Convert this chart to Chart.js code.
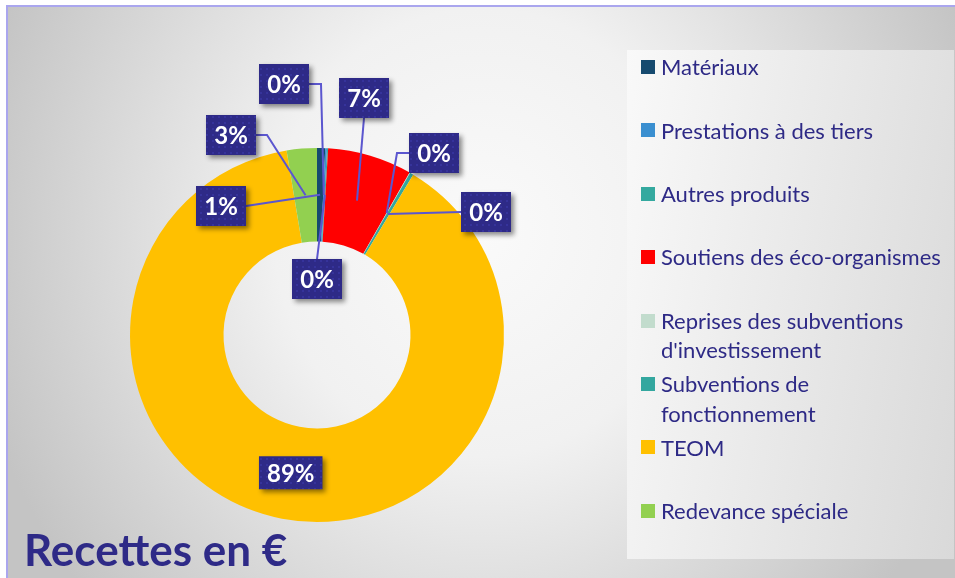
<!DOCTYPE html>
<html>
<head>
<meta charset="utf-8">
<script src="https://cdn.jsdelivr.net/npm/chart.js@4.4.0/dist/chart.umd.min.js"></script>
<style>
html, body { margin: 0; padding: 0; width: 955px; height: 578px; overflow: hidden; background: #fff; }
#frame { position: absolute; left: 6px; top: 5px; width: 960px; height: 590px;
  border-left: 2px solid #aaa6ee; border-top: 2px solid #aaa6ee;
  background: radial-gradient(ellipse 520px 560px at 474px 225px, #fafafa 0%, #f1f1f1 40%, #c4c4c4 100%); }
#panel { position: absolute; left: 627px; top: 50px; width: 327px; height: 509px;
  background: linear-gradient(100deg, #f9f9f9, #d9d9d9); }
#myChart { position: absolute; left: 0; top: 0; }
#legend { position: absolute; left: 641px; top: 0; width: 310px; font-family: Lato, sans-serif; font-size: 22px; color: #2e2a86; }
.item { position: absolute; left: 0; width: 310px; }
.sw { position: absolute; left: 0; width: 14px; height: 14px; }
.txt { position: absolute; left: 20px; width: 290px; line-height: 29.5px; }
#title { position: absolute; left: 24px; top: 527px; font-family: Lato, sans-serif; font-weight: bold;
  font-size: 44px; line-height: 44px; color: #2e2a87; white-space: nowrap; }
</style>
</head>
<body>
<div id="frame"></div>
<div id="panel"></div>
<canvas id="myChart" width="955" height="578"></canvas>
<div id="legend"></div>
<div id="title">Recettes en €</div>
<script>
// categories and their share of the revenue (%)
const categories = ['Matériaux', 'Prestations à des tiers', 'Autres produits', 'Soutiens des éco-organismes',
  'Reprises des subventions d\'investissement', 'Subventions de fonctionnement', 'TEOM', 'Redevance spéciale'];
const values = [0.7, 0.15, 0.1, 7.3, 0.05, 0.3, 88.8, 2.6];
const colors = ['#164a6f', '#3a8fd0', '#34a99f', '#ff0000', '#c2dccd', '#33a79f', '#ffc000', '#92d050'];

// where each label box sits, relative to the doughnut centre (null = on the slice)
const labelLayout = [
  { dx: -96, dy: -129, side: 'right', elbow: 0 },
  { dx: -33, dy: -251, side: 'right', elbow: 12 },
  { dx: 0, dy: -56, side: 'top', elbow: 0 },
  { dx: 47, dy: -237, side: 'bottom', elbow: 0 },
  { dx: 117, dy: -182, side: 'left', elbow: 12 },
  { dx: 169, dy: -123, side: 'left', elbow: 0 },
  { dx: null, dy: null, side: null, elbow: 0, h: 33 },
  { dx: -86, dy: -200, side: 'right', elbow: 11 }
];

// legend on the right
const legend = document.getElementById('legend');
categories.forEach((c, i) => {
  const y = 67 + i * 63.4;
  const it = document.createElement('div');
  it.className = 'item';
  it.style.top = (y - 14.75) + 'px';
  it.innerHTML = '<div class="sw" style="top:7.75px;background:' + colors[i] + '"></div><div class="txt">' + c + '</div>';
  legend.appendChild(it);
});

// dotted fill for the label boxes
function boxPattern(ctx) {
  const pc = document.createElement('canvas');
  pc.width = 6; pc.height = 6;
  const p = pc.getContext('2d');
  p.fillStyle = '#2e2a87';
  p.fillRect(0, 0, 6, 6);
  p.fillStyle = '#3936a0';
  p.beginPath(); p.arc(3, 3, 1.1, 0, Math.PI * 2); p.fill();
  return ctx.createPattern(pc, 'repeat');
}

const boxLabels = {
  id: 'boxLabels',
  afterDatasetsDraw(chart) {
    const ctx = chart.ctx;
    const meta = chart.getDatasetMeta(0);
    const total = values.reduce((a, b) => a + b, 0);
    ctx.save();
    ctx.font = 'bold 24px Lato';
    const boxes = meta.data.map((arc, i) => {
      const lay = labelLayout[i];
      const p = arc.getCenterPoint();
      const text = Math.round(values[i] / total * 100) + '%';
      const w = Math.max(50, ctx.measureText(text).width + 16);
      const h = lay.h || 40;
      const cx = lay.dx === null ? p.x : arc.x + lay.dx;
      const cy = lay.dy === null ? p.y : arc.y + lay.dy;
      return { p, text, w, h, cx, cy, lay };
    });
    // leader lines
    ctx.strokeStyle = '#5b56cf';
    ctx.lineWidth = 2;
    boxes.forEach(b => {
      if (!b.lay.side) return;
      let sx = b.cx, sy = b.cy;
      if (b.lay.side === 'right') sx += b.w / 2;
      if (b.lay.side === 'left') sx -= b.w / 2;
      if (b.lay.side === 'top') sy -= b.h / 2;
      if (b.lay.side === 'bottom') sy += b.h / 2;
      ctx.beginPath();
      ctx.moveTo(sx, sy);
      if (b.lay.elbow) {
        const ex = b.lay.side === 'left' ? sx - b.lay.elbow : sx + b.lay.elbow;
        ctx.lineTo(ex, sy);
      }
      ctx.lineTo(b.p.x, b.p.y);
      ctx.stroke();
    });
    // boxes
    const pat = boxPattern(ctx);
    boxes.forEach(b => {
      const x = b.cx - b.w / 2, y = b.cy - b.h / 2;
      ctx.save();
      ctx.shadowColor = 'rgba(0,0,0,0.45)';
      ctx.shadowBlur = 5;
      ctx.shadowOffsetX = 3;
      ctx.shadowOffsetY = 3;
      ctx.fillStyle = pat;
      ctx.fillRect(x, y, b.w, b.h);
      ctx.restore();
      ctx.fillStyle = '#ffffff';
      ctx.textAlign = 'center';
      ctx.textBaseline = 'middle';
      ctx.fillText(b.text, b.cx, b.cy + 1);
    });
    ctx.restore();
  }
};

function draw() {
  const ctx = document.getElementById('myChart');
  new Chart(ctx, {
    type: 'doughnut',
    data: {
      labels: categories,
      datasets: [{
        data: values,
        backgroundColor: colors,
        borderWidth: 0
      }]
    },
    options: {
      responsive: false,
      animation: false,
      devicePixelRatio: 1,
      cutout: '50%',
      layout: { padding: { left: 130, top: 148, right: 451, bottom: 56 } },
      plugins: {
        legend: { display: false },
        tooltip: { enabled: false }
      }
    },
    plugins: [boxLabels]
  });
}

document.fonts.load('bold 24px Lato').then(draw, draw);
</script>
</body>
</html>
